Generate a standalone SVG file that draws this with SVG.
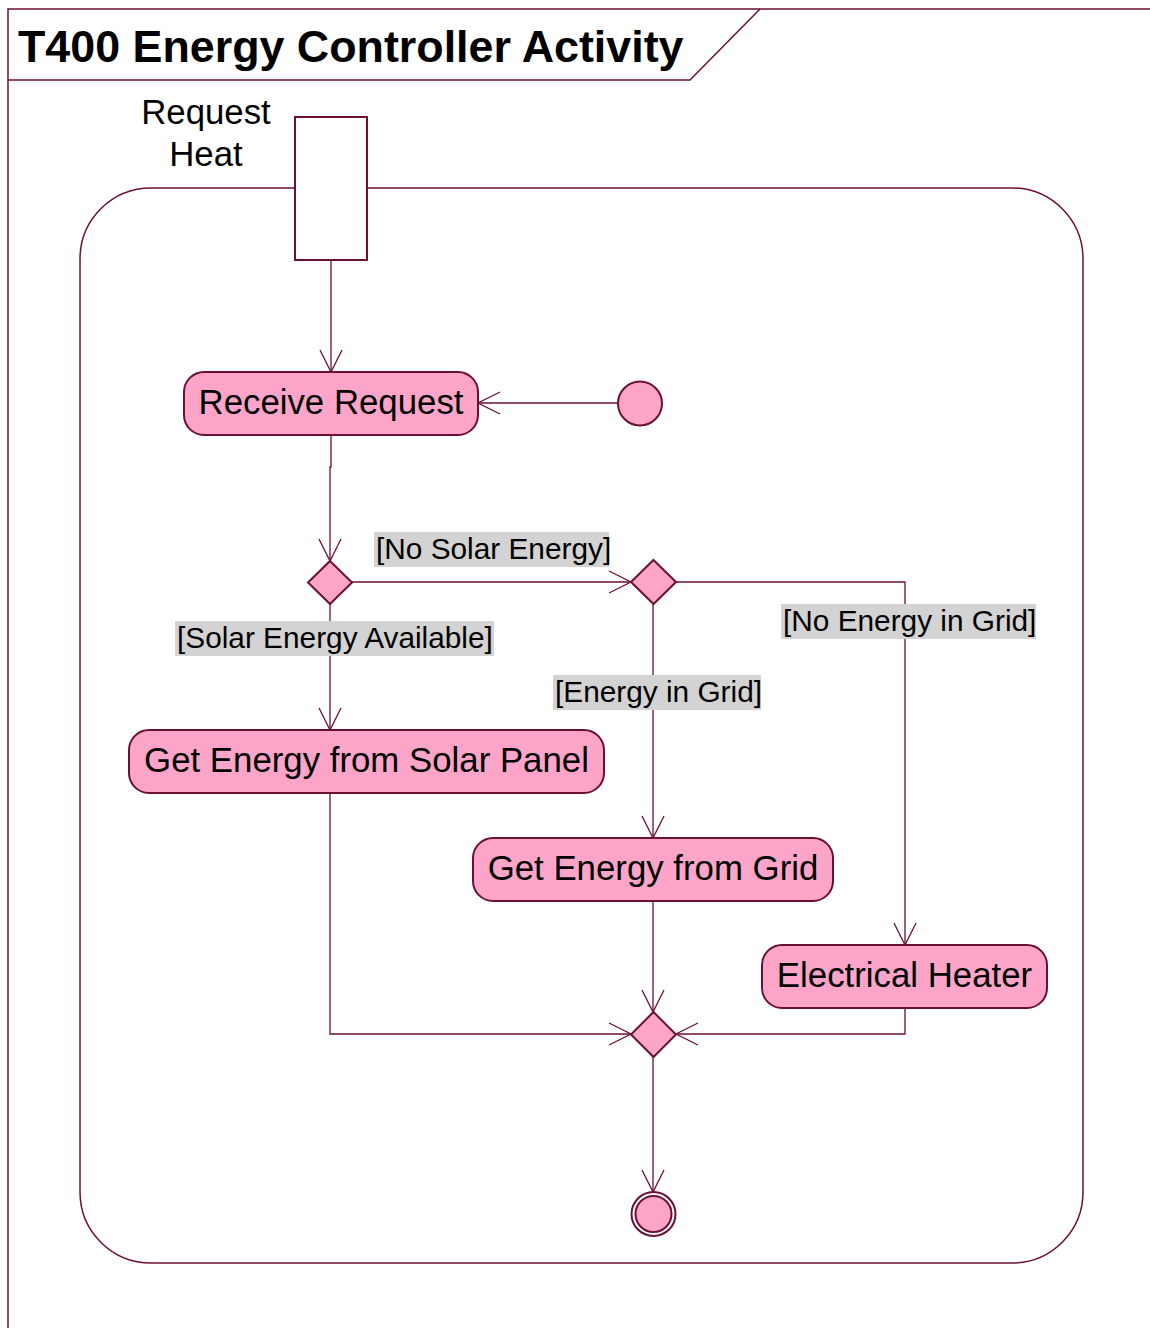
<svg xmlns="http://www.w3.org/2000/svg" width="1150" height="1328" viewBox="0 0 1150 1328">
  <defs>
    <style>
      .frame { fill: none; stroke: #6b0f34; stroke-width: 1.5; }
      .action { fill: #fca5c9; stroke: #6b0f34; stroke-width: 2; }
      .ctrl { fill: #fca5c9; stroke: #6b0f34; stroke-width: 2; }
      .edge { fill: none; stroke: #6b0f34; stroke-width: 1.3; }
      .label { font-family: "Liberation Sans", Arial, sans-serif; font-size: 34.8px; fill: #000; }
      .guard { font-family: "Liberation Sans", Arial, sans-serif; font-size: 29.8px; fill: #000; }
      .guard-bg { fill: #d3d3d3; }
      .title { font-family: "Liberation Sans", Arial, sans-serif; font-size: 44.8px; font-weight: bold; fill: #000; }
    </style>
    <marker id="open-arrow" markerWidth="26" markerHeight="26" refX="23" refY="12" orient="auto" markerUnits="userSpaceOnUse">
      <path d="M1,1 L23,12 L1,23" fill="none" stroke="#6b0f34" stroke-width="1.3"/>
    </marker>
  </defs>

  <rect width="1150" height="1328" fill="#fff"/>

  <!-- activity frame with its name tab -->
  <g id="frame">
    <path class="frame" d="M8,1328 L8,9 L1150,9"/>
    <path class="frame" d="M8,80 L690,80 L760,9"/>
    <text class="title" x="18" y="62">T400 Energy Controller Activity</text>
  </g>

  <!-- activity boundary -->
  <g id="activity">
    <rect class="frame" x="80" y="188" width="1003" height="1075" rx="71" ry="71" stroke-width="2"/>
  </g>

  <!-- input parameter pin -->
  <g id="pin-request-heat">
    <rect x="295" y="117" width="72" height="143" fill="#fff" stroke="#6b0f34" stroke-width="2"/>
    <text class="label" x="206" y="124" text-anchor="middle">Request</text>
    <text class="label" x="206" y="166" text-anchor="middle">Heat</text>
  </g>

  <!-- connectors -->
  <g id="edges">
    <path class="edge" d="M331,260 L331,372" marker-end="url(#open-arrow)"/>
    <path class="edge" d="M618,403 L478,403" marker-end="url(#open-arrow)"/>
    <path class="edge" d="M331,435 L331,467 L330,467 L330,561" marker-end="url(#open-arrow)"/>
    <path class="edge" d="M352,582 L631,582" marker-end="url(#open-arrow)"/>
    <path class="edge" d="M330,604 L330,730" marker-end="url(#open-arrow)"/>
    <path class="edge" d="M653,604 L653,838" marker-end="url(#open-arrow)"/>
    <path class="edge" d="M676,582 L905,582 L905,945" marker-end="url(#open-arrow)"/>
    <path class="edge" d="M330,793 L330,1034 L631,1034" marker-end="url(#open-arrow)"/>
    <path class="edge" d="M653,901 L653,1012" marker-end="url(#open-arrow)"/>
    <path class="edge" d="M905,1008 L905,1034 L676,1034" marker-end="url(#open-arrow)"/>
    <path class="edge" d="M653,1057 L653,1192" marker-end="url(#open-arrow)"/>
  </g>

  <!-- guard labels -->
  <g id="guards">
    <rect class="guard-bg" x="374" y="532" width="235" height="35"/>
    <text class="guard" x="376" y="559">[No Solar Energy]</text>
    <rect class="guard-bg" x="175" y="621" width="319" height="35"/>
    <text class="guard" x="177" y="648">[Solar Energy Available]</text>
    <rect class="guard-bg" x="781" y="604" width="255" height="35"/>
    <text class="guard" x="783" y="631">[No Energy in Grid]</text>
    <rect class="guard-bg" x="553" y="675" width="208" height="35"/>
    <text class="guard" x="555" y="702">[Energy in Grid]</text>
  </g>

  <g id="initial">
    <circle class="ctrl" cx="640" cy="403.5" r="22" stroke-width="1.5"/>
  </g>

  <g id="receive-request">
    <rect class="action" x="184" y="372" width="294" height="63" rx="20" ry="20"/>
    <text class="label" x="331" y="414" text-anchor="middle">Receive Request</text>
  </g>

  <g id="decision-solar">
    <polygon class="ctrl" points="330,561 352,582.5 330,604 308,582.5"/>
  </g>

  <g id="decision-grid">
    <polygon class="ctrl" points="653.5,560 676,582 653.5,604 631,582"/>
  </g>

  <g id="solar-panel">
    <rect class="action" x="129" y="730" width="475" height="63" rx="20" ry="20"/>
    <text class="label" x="366.5" y="772" text-anchor="middle">Get Energy from Solar Panel</text>
  </g>

  <g id="grid">
    <rect class="action" x="473" y="838" width="360" height="63" rx="20" ry="20"/>
    <text class="label" x="653" y="880" text-anchor="middle">Get Energy from Grid</text>
  </g>

  <g id="electrical-heater">
    <rect class="action" x="762" y="945" width="285" height="63" rx="20" ry="20"/>
    <text class="label" x="904.5" y="987" text-anchor="middle">Electrical Heater</text>
  </g>

  <g id="merge">
    <polygon class="ctrl" points="653.5,1012 676,1034.5 653.5,1057 631,1034.5"/>
  </g>

  <g id="final">
    <circle cx="653.5" cy="1214" r="22" fill="#fff" stroke="#6b0f34" stroke-width="2"/>
    <circle class="ctrl" cx="653.5" cy="1214" r="18" stroke-width="2"/>
  </g>
</svg>
